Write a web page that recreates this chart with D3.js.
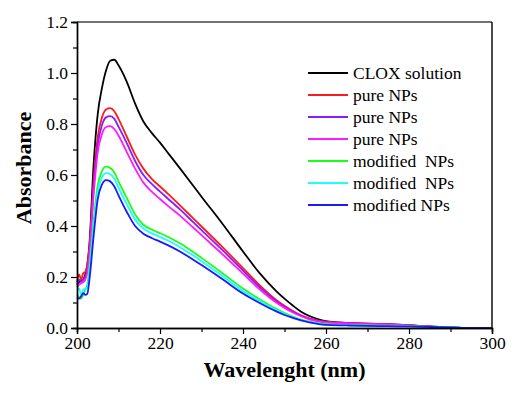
<!DOCTYPE html>
<html>
<head>
<meta charset="utf-8">
<script src="https://cdn.jsdelivr.net/npm/d3@7"></script>
<style>
  body { margin: 0; background: #fff; }
</style>
</head>
<body>
<div id="chart"></div>
<script>
  // wavelength grid (nm) shared by every series
  var wavelengths = [200, 200.5, 201, 201.5, 202, 202.5, 203, 204, 205, 206, 207, 208, 209, 210, 212, 214, 216, 218, 220, 222, 225, 228, 230, 235, 240, 244, 248, 250, 252, 254, 256, 258, 260, 265, 270, 275, 280, 285, 290, 295, 300];

  var cloxSolution = [0.17, 0.18, 0.185, 0.19, 0.21, 0.25, 0.33, 0.64, 0.84, 0.94, 1.01, 1.048, 1.052, 1.03, 0.965, 0.88, 0.81, 0.765, 0.727, 0.685, 0.622, 0.558, 0.515, 0.41, 0.3, 0.215, 0.145, 0.115, 0.088, 0.064, 0.047, 0.035, 0.027, 0.02, 0.017, 0.015, 0.011, 0.006, 0.002, 0, 0];
  var pureNPs1 = [0.18, 0.21, 0.19, 0.215, 0.22, 0.25, 0.32, 0.58, 0.75, 0.825, 0.857, 0.862, 0.85, 0.82, 0.75, 0.68, 0.625, 0.585, 0.555, 0.525, 0.478, 0.43, 0.398, 0.318, 0.235, 0.168, 0.11, 0.087, 0.067, 0.05, 0.038, 0.03, 0.025, 0.02, 0.017, 0.015, 0.011, 0.005, 0.002, 0, 0];
  var pureNPs2 = [0.17, 0.19, 0.18, 0.19, 0.2, 0.23, 0.3, 0.55, 0.72, 0.795, 0.826, 0.831, 0.82, 0.79, 0.725, 0.655, 0.6, 0.565, 0.535, 0.506, 0.462, 0.415, 0.384, 0.306, 0.225, 0.16, 0.105, 0.083, 0.064, 0.048, 0.036, 0.028, 0.023, 0.019, 0.016, 0.014, 0.01, 0.005, 0.002, 0, 0];
  var pureNPs3 = [0.16, 0.17, 0.175, 0.18, 0.19, 0.22, 0.29, 0.52, 0.69, 0.76, 0.788, 0.792, 0.78, 0.755, 0.69, 0.625, 0.57, 0.535, 0.506, 0.478, 0.438, 0.394, 0.364, 0.29, 0.213, 0.152, 0.1, 0.079, 0.061, 0.046, 0.034, 0.026, 0.021, 0.018, 0.015, 0.013, 0.01, 0.005, 0.002, 0, 0];
  var modNPs1 = [0.13, 0.12, 0.115, 0.13, 0.15, 0.17, 0.24, 0.42, 0.56, 0.615, 0.633, 0.628, 0.61, 0.575, 0.51, 0.445, 0.405, 0.386, 0.372, 0.357, 0.33, 0.298, 0.275, 0.216, 0.155, 0.113, 0.075, 0.059, 0.045, 0.033, 0.025, 0.019, 0.015, 0.012, 0.01, 0.009, 0.007, 0.004, 0.002, 0, 0];
  var modNPs2 = [0.15, 0.155, 0.13, 0.15, 0.155, 0.16, 0.22, 0.39, 0.53, 0.59, 0.607, 0.603, 0.585, 0.55, 0.485, 0.425, 0.39, 0.371, 0.357, 0.342, 0.315, 0.284, 0.262, 0.204, 0.145, 0.105, 0.07, 0.055, 0.042, 0.031, 0.023, 0.017, 0.013, 0.011, 0.009, 0.008, 0.006, 0.004, 0.002, 0, 0];
  var modNPs3 = [0.12, 0.115, 0.125, 0.137, 0.13, 0.135, 0.19, 0.36, 0.505, 0.562, 0.58, 0.575, 0.555, 0.52, 0.455, 0.4, 0.37, 0.353, 0.339, 0.324, 0.298, 0.268, 0.247, 0.192, 0.135, 0.098, 0.065, 0.051, 0.04, 0.03, 0.022, 0.016, 0.012, 0.01, 0.008, 0.007, 0.006, 0.004, 0.002, 0, 0];

  var seriesNames = ['CLOX solution', 'pure NPs', 'pure NPs', 'pure NPs', 'modified  NPs', 'modified  NPs', 'modified NPs'];
  var seriesValues = [cloxSolution, pureNPs1, pureNPs2, pureNPs3, modNPs1, modNPs2, modNPs3];
  var seriesColors = ['#000000', '#ff1a1a', '#8a1aff', '#ff1aff', '#1aff1a', '#1affff', '#1a1aff'];

  var xTicks = [200, 220, 240, 260, 280, 300];
  var yTicks = [0.0, 0.2, 0.4, 0.6, 0.8, 1.0, 1.2];

  var serif = '"Liberation Serif", "Times New Roman", Times, "DejaVu Serif", "Noto Serif", serif';

  var width = 522, height = 393;
  var margin = { top: 22, right: 30, bottom: 65, left: 77 };

  var svg = d3.select('#chart').append('svg')
    .attr('width', width)
    .attr('height', height);

  var x = d3.scaleLinear().domain([200, 300]).range([margin.left, width - margin.right]);
  var y = d3.scaleLinear().domain([0, 1.2]).range([height - margin.bottom, margin.top]);

  // curves
  var line = d3.line()
    .x(function (d) { return x(d[0]); })
    .y(function (d) { return y(d[1]); })
    .curve(d3.curveMonotoneX);

  var curves = svg.append('g');
  seriesValues.forEach(function (vals, i) {
    curves.append('path')
      .datum(wavelengths.map(function (w, j) { return [w, vals[j]]; }))
      .attr('fill', 'none')
      .attr('stroke', seriesColors[i])
      .attr('stroke-width', 1.8)
      .attr('stroke-linejoin', 'round')
      .attr('d', line);
  });

  // frame: top and right
  svg.append('line')
    .attr('x1', x(200)).attr('x2', x(300))
    .attr('y1', y(1.2)).attr('y2', y(1.2))
    .attr('stroke', '#444').attr('stroke-width', 1.6);
  svg.append('line')
    .attr('x1', x(300)).attr('x2', x(300))
    .attr('y1', y(1.2)).attr('y2', y(0))
    .attr('stroke', '#000').attr('stroke-width', 1.4);

  // minor ticks, then major ticks with labels
  var gx = svg.append('g').attr('transform', 'translate(0,' + y(0) + ')');
  gx.call(d3.axisBottom(x).tickValues(d3.range(210, 300, 20)).tickSize(4).tickFormat(''));
  gx.append('g').call(d3.axisBottom(x).tickValues(xTicks).tickSize(6).tickPadding(3).tickFormat(d3.format('d')));

  var gy = svg.append('g').attr('transform', 'translate(' + x(200) + ',0)');
  gy.call(d3.axisLeft(y).tickValues(d3.range(0.1, 1.2, 0.2)).tickSize(4).tickFormat(''));
  gy.append('g').call(d3.axisLeft(y).tickValues(yTicks).tickSize(6).tickPadding(3).tickFormat(d3.format('.1f')));

  svg.selectAll('.domain').attr('stroke', '#000').attr('stroke-width', 1.4);
  svg.selectAll('.tick line').attr('stroke', '#000').attr('stroke-width', 1.2);
  svg.selectAll('g').attr('font-family', serif);
  svg.selectAll('.tick text')
    .attr('font-size', 17.5)
    .attr('fill', '#000');

  // axis titles
  svg.append('text')
    .attr('x', (x(200) + x(300)) / 2)
    .attr('y', 377)
    .attr('text-anchor', 'middle')
    .attr('font-family', serif)
    .attr('font-size', 22)
    .attr('font-weight', 'bold')
    .text('Wavelenght (nm)');

  svg.append('text')
    .attr('transform', 'translate(31,168) rotate(-90)')
    .attr('text-anchor', 'middle')
    .attr('font-family', serif)
    .attr('font-size', 22)
    .attr('font-weight', 'bold')
    .text('Absorbance');

  // legend
  var legend = svg.append('g').attr('transform', 'translate(308,73)');
  seriesNames.forEach(function (name, i) {
    var row = legend.append('g').attr('transform', 'translate(0,' + i * 22 + ')');
    row.append('line')
      .attr('x1', 0).attr('x2', 40)
      .attr('stroke', seriesColors[i])
      .attr('stroke-width', 1.8);
    row.append('text')
      .attr('x', 45)
      .attr('y', 6)
      .attr('font-family', serif)
      .attr('font-size', 17.5)
      .style('white-space', 'pre')
      .text(name);
  });
</script>
</body>
</html>
